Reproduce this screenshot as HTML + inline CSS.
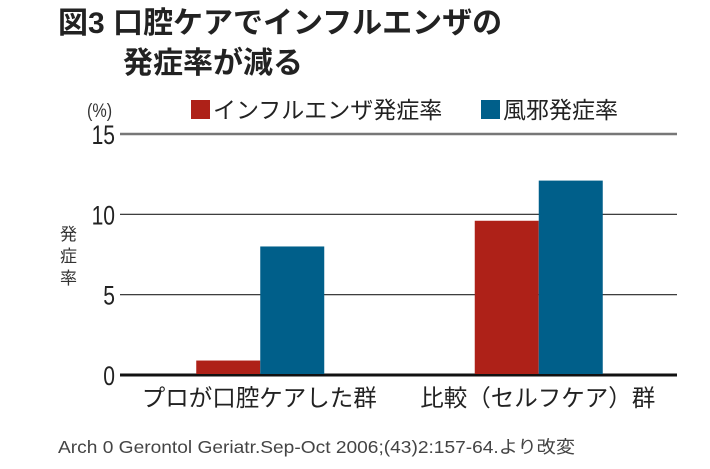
<!DOCTYPE html>
<html><head><meta charset="utf-8"><style>
body{margin:0;background:#fff;width:710px;height:464px;overflow:hidden;font-family:"Liberation Sans","Noto Sans CJK JP",sans-serif;}
</style></head><body>
<svg width="710" height="464" xmlns="http://www.w3.org/2000/svg" font-family="Liberation Sans, Noto Sans CJK JP, sans-serif">
<text x="58" y="33" font-size="30" font-weight="bold" fill="#222">図3 口腔ケアでインフルエンザの</text>
<text x="123" y="73" font-size="30" font-weight="bold" fill="#222">発症率が減る</text>
<text x="87" y="117" font-size="19" fill="#333" transform="translate(87 0) scale(0.85 1) translate(-87 0)">(%)</text>
<g>
<rect x="191" y="100" width="19" height="19" fill="#ae2118"/>
<text x="213" y="118" font-size="23" fill="#222">インフルエンザ発症率</text>
<rect x="481" y="100" width="19" height="19" fill="#005f8a"/>
<text x="503" y="118" font-size="23" fill="#222">風邪発症率</text>
</g>
<text font-size="17" fill="#333"><tspan x="60" y="240">発</tspan><tspan x="60" y="262">症</tspan><tspan x="60" y="284">率</tspan></text>
<g id="grid"></g>
<g id="bars"></g>
<g id="xlabels"></g>
<text x="58" y="453" font-size="17.5" fill="#444" textLength="517" lengthAdjust="spacingAndGlyphs">Arch 0 Gerontol Geriatr.Sep-Oct 2006;(43)2:157-64.より改変</text>
</svg>
<script>
const categories=["プロが口腔ケアした群","比較（セルフケア）群"];
const influenza=[0.9,9.6];
const cold=[8.0,12.1];
const ticks=[0,5,10,15];
const NS="http://www.w3.org/2000/svg";
const x0=120,x1=677,yTop=134,yBot=375,vMax=15;
function y(v){return yBot-(v/vMax)*(yBot-yTop);}
function cx(i){return x0+(x1-x0)*(i+0.5)/categories.length;}
const bw=64;
function mk(tag,attrs,parent){const e=document.createElementNS(NS,tag);for(const k in attrs)e.setAttribute(k,attrs[k]);document.getElementById(parent).appendChild(e);return e;}
ticks.forEach(t=>{
 const l=mk('line',{x1:x0,x2:x1,y1:y(t),y2:y(t),stroke:t===0?'#111':(t===15?'#777':'#222'),'stroke-width':t===0?3:(t===15?2.5:1.2)},'grid');
 
 
 const tx=mk('text',{x:115,y:y(t)+10,'text-anchor':'end','font-size':27,fill:'#222',transform:'translate(115 0) scale(0.78 1) translate(-115 0)'},'grid');
 tx.textContent=t;
 
 
});
categories.forEach((c,i)=>{
 const r=mk('rect',{x:cx(i)-bw+1,y:y(influenza[i]),width:bw,height:yBot-1-y(influenza[i]),fill:'#ae2118'},'bars');
 
 
 const b=mk('rect',{x:cx(i)+1,y:y(cold[i]),width:bw,height:yBot-1-y(cold[i]),fill:'#005f8a'},'bars');
 
 
 const t=mk('text',{x:cx(i),y:406,'text-anchor':'middle','font-size':23.5,fill:'#222'},'xlabels');
 t.textContent=c;
 
 
});
</script>
</body></html>
